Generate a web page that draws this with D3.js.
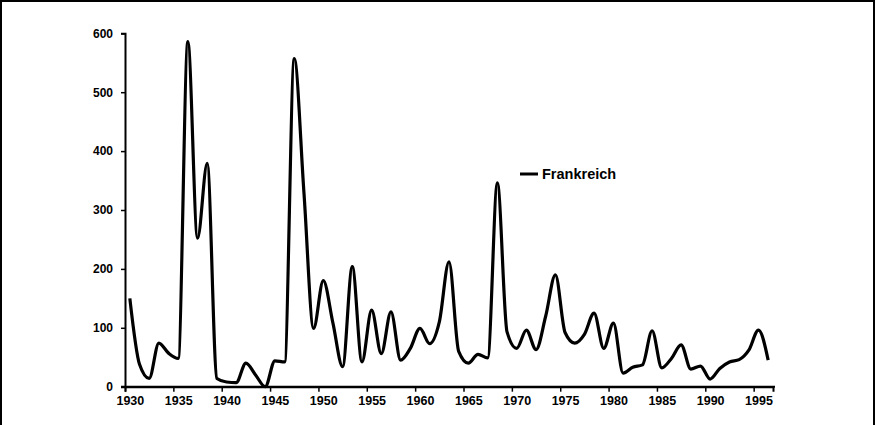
<!DOCTYPE html>
<html>
<head>
<meta charset="utf-8">
<script src="https://cdn.jsdelivr.net/npm/d3@7/dist/d3.min.js"></script>
<style>
  html, body { margin: 0; padding: 0; background: #fff; }
  svg { display: block; }
  text { font-family: "Liberation Sans", Arial, sans-serif; font-weight: bold; fill: #000; }
</style>
</head>
<body>
<svg id="chart" width="876" height="425"></svg>
<script>
// ---- data ----
const years = d3.range(1930, 1997);
const frankreich = [
  150, 38, 14, 74, 57, 48, 586, 252, 379, 14,
  8, 7, 40, 20, 0, 44, 42, 557, 330, 99,
  180, 108, 34, 204, 42, 130, 56, 127, 45, 65,
  99, 73, 110, 212, 60, 40, 55, 49, 346, 93,
  65, 96, 63, 120, 190, 92, 74, 89, 125, 65,
  108, 23, 33, 37, 95, 32, 48, 71, 30, 35,
  13, 31, 42, 46, 62, 96, 45
];
const xTickYears = [1930, 1935, 1940, 1945, 1950, 1955, 1960, 1965, 1970, 1975, 1980, 1985, 1990, 1995];
const yTicks = [0, 100, 200, 300, 400, 500, 600];
const seriesName = "Frankreich";

// ---- layout ----
const svg = d3.select("#chart");
svg.append("rect").attr("x", 1).attr("y", 1).attr("width", 873).attr("height", 440)
  .attr("fill", "none").attr("stroke", "#000").attr("stroke-width", 2);

const x = d3.scaleLinear().domain([1930, 1997]).range([125, 773]);
const y = d3.scaleLinear().domain([0, 600]).range([386.7, 33.3]);
const half = x(1930.5) - x(1930);

// y axis
const yAxis = svg.append("g").attr("transform", "translate(125,0)")
  .call(d3.axisLeft(y).tickValues(yTicks).tickSize(4).tickPadding(8).tickFormat(d3.format("d")));
yAxis.selectAll("text").style("font-size", "12px");

// x axis (labels centred on the year category, ticks at its start)
const xAxis = svg.append("g").attr("transform", `translate(0,${y(0)})`)
  .call(d3.axisBottom(x).tickValues(xTickYears).tickSize(5).tickPadding(4).tickFormat(d3.format("d")));
xAxis.selectAll("text").style("font-size", "12.5px").attr("dx", half);
svg.append("line").attr("x1", 121).attr("x2", 775).attr("y1", y(0)).attr("y2", y(0))
  .attr("stroke", "#000").attr("stroke-width", 2);

[yAxis, xAxis].forEach(g => {
  g.select(".domain").attr("stroke", "#000").attr("stroke-width", 2);
  g.selectAll(".tick line").attr("stroke", "#000").attr("stroke-width", 1.5);
});

// line
const data = years.map((yr, i) => ({ yr, v: frankreich[i] }));
const line = d3.line()
  .x(d => x(d.yr + 0.5))
  .y(d => y(d.v))
  .curve(d3.curveMonotoneX);
svg.append("path").datum(data).attr("d", line)
  .attr("fill", "none").attr("stroke", "#000").attr("stroke-width", 3.2)
  .attr("stroke-linejoin", "round");

// legend
const leg = svg.append("g").attr("transform", "translate(520,174)");
leg.append("line").attr("x1", 0).attr("x2", 18).attr("y1", 0).attr("y2", 0)
  .attr("stroke", "#000").attr("stroke-width", 3);
leg.append("text").attr("x", 22).attr("y", 5).style("font-size", "14.5px").text(seriesName);
</script>
</body>
</html>
